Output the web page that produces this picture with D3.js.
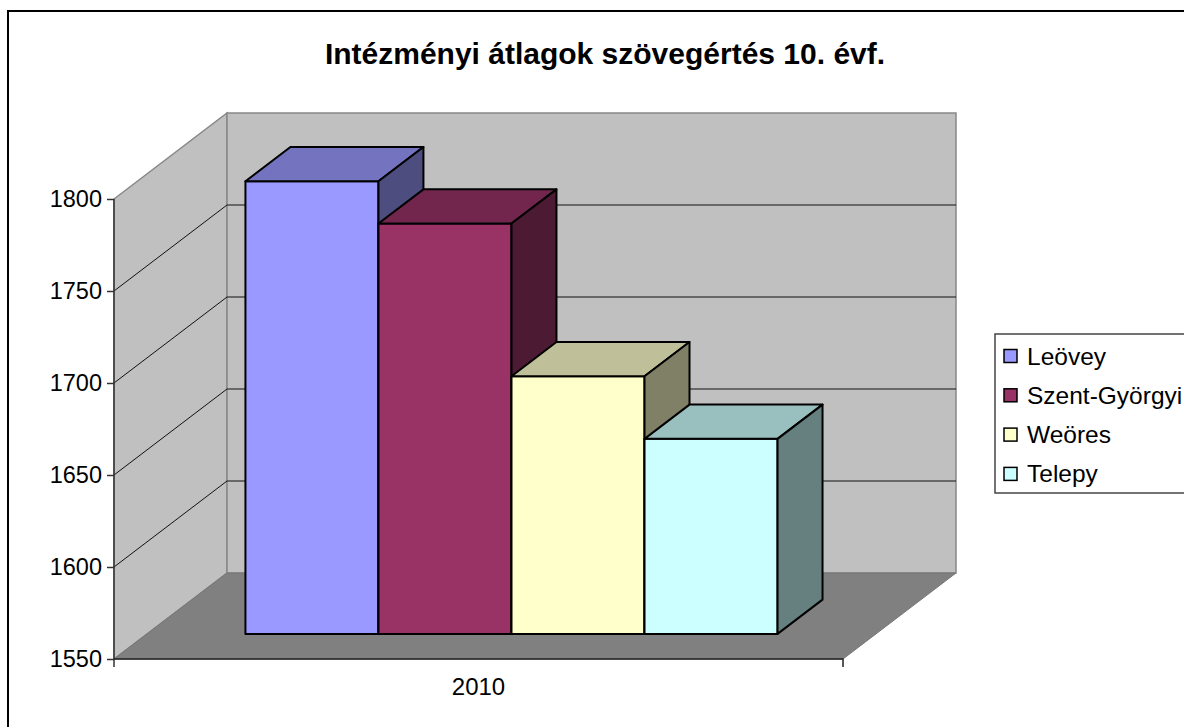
<!DOCTYPE html>
<html>
<head>
<meta charset="utf-8">
<script src="https://cdn.jsdelivr.net/npm/d3@7"></script>
<style>
  body { margin: 0; background: #fff; }
  text { font-family: Arial, "Liberation Sans", sans-serif; }
</style>
</head>
<body>
<svg id="chart" width="1184" height="727"></svg>
<script>
const title = 'Intézményi átlagok szövegértés 10. évf.';
const categories = ['2010'];
const seriesNames = ['Leövey', 'Szent-Györgyi', 'Weöres', 'Telepy'];
const seriesValues = [1796, 1773, 1690, 1656];
const yTicks = [1550, 1600, 1650, 1700, 1750, 1800];
const frontColors = ['#9999ff', '#993366', '#ffffcc', '#ccffff'];

const svg = d3.select('#chart');

// front plane of the box, then the depth vector to the back wall
const yScale = d3.scaleLinear().domain([1550, 1800]).range([659, 199]);
const x0 = 114, x1 = 843;
const depth = {dx: 113, dy: -86};
const barZ = [0.292, 0.69]; // bar front / back as fraction of the depth

const xCat = d3.scaleBand().domain(categories).range([x0, x1]).paddingInner(0).paddingOuter(0.185);
const xSer = d3.scaleBand().domain(seriesNames).range([0, xCat.bandwidth()]).padding(0);

function shade(c, k) {
    let col = d3.rgb(c);
    return d3.rgb(col.r * k, col.g * k, col.b * k).formatHex();
}
function pt(x, y, z) { return [x + depth.dx * z, y + depth.dy * z]; }
const line = d3.line();

// outer frame
svg.append('rect').attr('x', 8).attr('y', 11).attr('width', 1190).attr('height', 730)
    .attr('fill', '#fff').attr('stroke', '#000').attr('stroke-width', 2);

svg.append('text').attr('x', 605).attr('y', 64).attr('text-anchor', 'middle')
    .style('font-size', '30px').style('font-weight', 'bold').text(title);

let yTop = yScale(1800), yBot = yScale(1550);

// left wall
svg.append('path').attr('d', line([pt(x0, yTop, 0), pt(x0, yTop, 1), pt(x0, yBot, 1), pt(x0, yBot, 0)]) + 'Z')
    .attr('fill', '#c0c0c0').attr('stroke', '#888').attr('stroke-width', 1.5);
// back wall
svg.append('path').attr('d', line([pt(x0, yTop, 1), pt(x1, yTop, 1), pt(x1, yBot, 1), pt(x0, yBot, 1)]) + 'Z')
    .attr('fill', '#c0c0c0').attr('stroke', '#888').attr('stroke-width', 1.5);
// floor
svg.append('path').attr('d', line([pt(x0, yBot, 0), pt(x0, yBot, 1), pt(x1, yBot, 1), pt(x1, yBot, 0)]) + 'Z')
    .attr('fill', '#808080').attr('stroke', '#777').attr('stroke-width', 1);

// gridlines on both walls
yTicks.filter(t => t > 1550 && t < 1800).forEach(t => {
    let y = yScale(t);
    svg.append('path').attr('d', line([pt(x0, y, 0), pt(x0, y, 1), pt(x1, y, 1)]))
        .attr('fill', 'none').attr('stroke', '#111').attr('stroke-width', 1);
});

// bars, left to right so each front hides the previous side
seriesNames.forEach((name, i) => {
    let v = seriesValues[i];
    let xl = xCat(categories[0]) + xSer(name), xr = xl + xSer.bandwidth();
    let yt = yScale(v), yb = yScale(1550);
    let [za, zb] = barZ;
    let g = svg.append('g').attr('stroke', '#000').attr('stroke-width', 2).attr('stroke-linejoin', 'round');
    g.append('path').attr('d', line([pt(xl, yt, za), pt(xr, yt, za), pt(xr, yb, za), pt(xl, yb, za)]) + 'Z')
        .attr('fill', frontColors[i]);
    g.append('path').attr('d', line([pt(xl, yt, za), pt(xl, yt, zb), pt(xr, yt, zb), pt(xr, yt, za)]) + 'Z')
        .attr('fill', shade(frontColors[i], 0.75));
    g.append('path').attr('d', line([pt(xr, yt, za), pt(xr, yt, zb), pt(xr, yb, zb), pt(xr, yb, za)]) + 'Z')
        .attr('fill', shade(frontColors[i], 0.5));
});

// value axis on the front edge
let axisG = svg.append('g').attr('transform', `translate(${x0},0)`)
    .call(d3.axisLeft(yScale).tickValues(yTicks).tickSize(7).tickPadding(5).tickFormat(d3.format('d')));
axisG.select('.domain').attr('d', `M0,${yTop}V${yBot + 8}`).attr('stroke', '#333').attr('stroke-width', 1.5);
axisG.selectAll('.tick line').attr('stroke', '#333').attr('stroke-width', 1.5);
axisG.selectAll('.tick text').attr('fill', '#000').style('font-size', '23.5px')
    .style('font-family', 'Arial, "Liberation Sans", sans-serif');

// category axis along the floor's front edge
let catG = svg.append('g').attr('transform', `translate(0,${yBot})`)
    .call(d3.axisBottom(xCat).tickSize(0).tickPadding(19));
catG.select('.domain').attr('d', `M${x0},0H${x1}V8`).attr('stroke', '#222').attr('stroke-width', 1.5).attr('fill', 'none');
catG.selectAll('.tick text').attr('fill', '#000').style('font-size', '24px')
    .style('font-family', 'Arial, "Liberation Sans", sans-serif');

// legend
let leg = svg.append('g').attr('transform', 'translate(995,334)');
leg.append('rect').attr('width', 260).attr('height', 159).attr('fill', '#fff')
    .attr('stroke', '#444').attr('stroke-width', 1.5);
seriesNames.forEach((name, i) => {
    let cy = 22 + i * 39.3;
    leg.append('rect').attr('x', 9).attr('y', cy - 6.5).attr('width', 13).attr('height', 13)
        .attr('fill', frontColors[i]).attr('stroke', '#000').attr('stroke-width', 1.5);
    leg.append('text').attr('x', 32).attr('y', cy + 8.5).style('font-size', '24.5px').text(name);
});
</script>
</body>
</html>
